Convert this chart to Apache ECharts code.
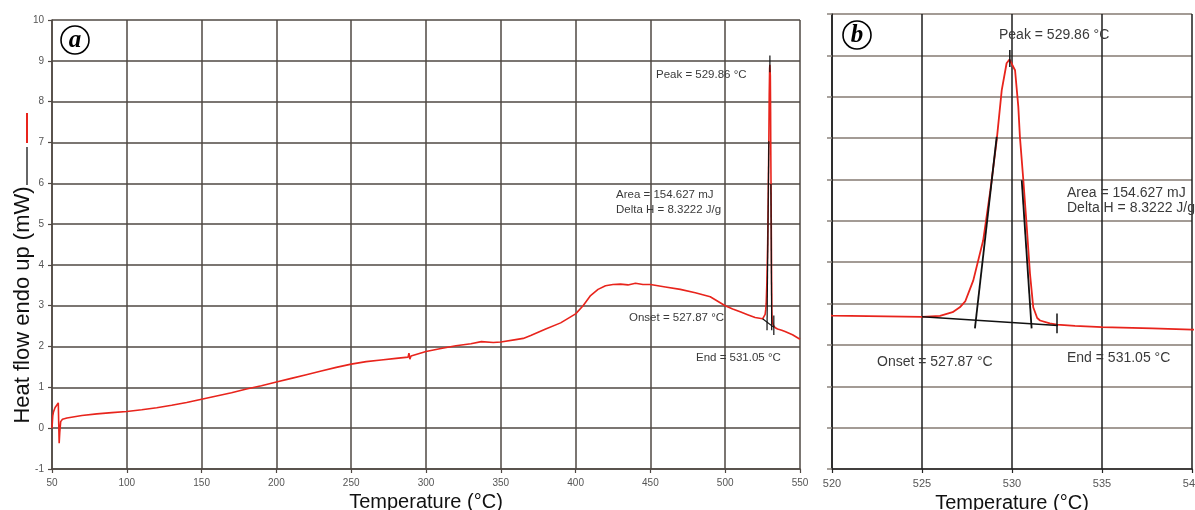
<!DOCTYPE html>
<html>
<head>
<meta charset="utf-8">
<script src="https://cdn.jsdelivr.net/npm/echarts@6/dist/echarts.min.js"></script>
<style>
html,body{margin:0;padding:0;background:#fff;}
#main{width:1195px;height:510px;}
</style>
</head>
<body>
<div id="main"></div>
<script>
// ---- data ----
var temps = [50, 50.5, 51, 52, 54.2, 54.5, 54.8, 55.2, 55.8, 57, 60, 70, 80, 90, 100, 110, 120, 130, 140, 150,
  160, 170, 180, 190, 200, 210, 220, 230, 240, 250, 260, 270, 280, 288, 288.6, 289.2, 290, 300, 310, 320,
  330, 337, 345, 350, 360, 365, 370, 380, 390, 400, 405, 410, 415, 420, 425, 430, 435, 440, 445, 450,
  460, 470, 480, 490, 500, 505, 510, 515, 520, 525, 526, 526.7, 527.1, 527.4, 527.85, 528.4, 528.8, 529.15, 529.43, 529.7,
  529.86, 530.17, 530.35, 530.44, 530.63, 530.82, 531.0, 531.18, 531.4, 531.56, 532.1, 532.5, 533.5, 535, 537.8, 540, 545, 550];
var heatFlow = [0.0, 0.3, 0.4, 0.5, 0.62, 0.1, -0.37, -0.1, 0.16, 0.22, 0.25, 0.31, 0.35, 0.38, 0.41, 0.45, 0.5, 0.56, 0.63, 0.71,
  0.79, 0.87, 0.96, 1.04, 1.13, 1.22, 1.31, 1.40, 1.49, 1.57, 1.63, 1.67, 1.71, 1.74, 1.84, 1.69, 1.77, 1.88, 1.95, 2.02,
  2.07, 2.12, 2.10, 2.11, 2.17, 2.20, 2.27, 2.43, 2.58, 2.80, 3.0, 3.25, 3.40, 3.49, 3.52, 3.53, 3.51, 3.55, 3.52, 3.52,
  3.46, 3.40, 3.32, 3.22, 3.00, 2.92, 2.85, 2.78, 2.71, 2.68, 2.70, 2.79, 2.91, 3.05, 3.56, 4.53, 5.74, 6.95, 8.16, 8.81,
  8.90, 8.64, 7.76, 7.03, 5.98, 4.85, 3.72, 2.91, 2.65, 2.59, 2.52, 2.49, 2.46, 2.43, 2.40, 2.37, 2.29, 2.18];

// integration construction lines (°C, mW)
var baseLine = [[525, 2.68], [532.55, 2.47]];
var onsetTangent = [[527.94, 2.40], [529.15, 7.03]];
var endTangent = [[530.54, 5.98], [531.09, 2.40]];
var peakTick = [[529.88, 9.13], [529.88, 8.72]];
var endTick = [[532.5, 2.76], [532.5, 2.28]];

var xTicksA = [50, 550, 50];   // min, max, interval
var xTicksB = [520, 540, 5];
var yTicks = [-1, 10, 1];

var peakText = 'Peak = 529.86 \u00B0C';
var areaText = 'Area = 154.627 mJ';
var deltaText = 'Delta H = 8.3222 J/g';
var onsetText = 'Onset = 527.87 \u00B0C';
var endText = 'End = 531.05 \u00B0C';
var xName = 'Temperature (\u00B0C)';
var yName = 'Heat flow endo up (mW)';

// ---- build ----
var curve = temps.map(function (t, i) { return [t, heatFlow[i]]; });
var FONT = 'Liberation Sans, Arial, sans-serif';
var RED = '#e8241c';
var chart = echarts.init(document.getElementById('main'), null, {renderer: 'canvas'});

function lineSeries(data, xi, color, width, z) {
  return {type: 'line', xAxisIndex: xi, yAxisIndex: xi, data: data, showSymbol: false, symbol: 'none',
    lineStyle: {color: color, width: width}, animation: false, z: z, silent: true};
}

function txt(x, y, s, size) {
  return {type: 'text', x: x, y: y, z: 100,
    style: {text: s, font: size + 'px ' + FONT, fill: '#3a3a3a', textVerticalAlign: 'middle'}};
}
function circLabel(cx, cy, letter) {
  return {type: 'group', x: cx, y: cy, z: 100, children: [
    {type: 'circle', shape: {cx: 0, cy: 0, r: 14}, style: {fill: '#fff', stroke: '#000', lineWidth: 1.6}},
    {type: 'text', x: 0, y: 1, style: {text: letter, font: 'italic bold 25px "Liberation Serif", "DejaVu Serif", serif', fill: '#000', textAlign: 'center', textVerticalAlign: 'middle'}}
  ]};
}

var gridA = '#4f4843';
var option = {
  backgroundColor: '#fff',
  animation: false,
  grid: [
    {left: 52, top: 20, width: 748, height: 449, outerBoundsMode: 'none', containLabel: false},
    {left: 832, top: 14, width: 360, height: 455, outerBoundsMode: 'none', containLabel: false}
  ],
  xAxis: [
    {type: 'value', gridIndex: 0, min: xTicksA[0], max: xTicksA[1], interval: xTicksA[2],
      axisLine: {show: true, onZero: false, lineStyle: {color: gridA, width: 1.5}},
      axisTick: {show: true, length: 4, lineStyle: {color: gridA, width: 1.2}},
      axisLabel: {color: '#555', fontSize: 10, fontFamily: FONT, margin: 9},
      splitLine: {show: true, lineStyle: {color: gridA, width: 1.5}},
      name: xName, nameLocation: 'middle', nameGap: 17,
      nameTextStyle: {color: '#111', fontSize: 20, fontFamily: FONT}},
    {type: 'value', gridIndex: 1, min: xTicksB[0], max: xTicksB[1], interval: xTicksB[2],
      axisLine: {show: true, onZero: false, lineStyle: {color: '#222', width: 1.5}},
      axisTick: {show: true, length: 4, lineStyle: {color: '#222', width: 1.2}},
      axisLabel: {color: '#555', fontSize: 11, fontFamily: FONT, margin: 9},
      splitLine: {show: true, lineStyle: {color: '#1e1e1e', width: 1.5}},
      name: xName, nameLocation: 'middle', nameGap: 17,
      nameTextStyle: {color: '#111', fontSize: 20, fontFamily: FONT}}
  ],
  yAxis: [
    {type: 'value', gridIndex: 0, min: yTicks[0], max: yTicks[1], interval: yTicks[2],
      axisLine: {show: true, onZero: false, lineStyle: {color: gridA, width: 1.5}},
      axisTick: {show: true, length: 4, lineStyle: {color: gridA, width: 1.2}},
      axisLabel: {color: '#555', fontSize: 10, fontFamily: FONT, margin: 8},
      splitLine: {show: true, lineStyle: {color: gridA, width: 1.5}}},
    {type: 'value', gridIndex: 1, min: yTicks[0], max: yTicks[1], interval: yTicks[2],
      axisLine: {show: true, onZero: false, lineStyle: {color: '#222', width: 1.5}},
      axisTick: {show: true, length: 5, lineStyle: {color: '#8c847e', width: 1.5}},
      axisLabel: {show: false},
      splitLine: {show: true, lineStyle: {color: '#a39b95', width: 1.8}}}
  ],
  series: [
    lineSeries(curve, 0, RED, 1.6, 3),
    lineSeries(baseLine, 0, '#111', 1.2, 4),
    lineSeries(onsetTangent, 0, '#111', 1.2, 4),
    lineSeries(endTangent, 0, '#111', 1.2, 4),
    lineSeries(peakTick, 0, '#111', 1.2, 4),
    lineSeries(endTick, 0, '#111', 1.2, 4),
    lineSeries(curve, 1, RED, 1.8, 3),
    lineSeries(baseLine, 1, '#111', 1.5, 4),
    lineSeries(onsetTangent, 1, '#111', 1.8, 4),
    lineSeries(endTangent, 1, '#111', 1.8, 4),
    lineSeries(peakTick, 1, '#111', 1.5, 4),
    lineSeries(endTick, 1, '#111', 1.5, 4)
  ],
  graphic: [
    {type: 'text', x: 23, y: 305, rotation: Math.PI / 2, z: 100,
      style: {text: yName, font: '22px ' + FONT, fill: '#111', textAlign: 'center', textVerticalAlign: 'middle'}},
    {type: 'line', shape: {x1: 27, y1: 113, x2: 27, y2: 143}, style: {stroke: RED, lineWidth: 2}, z: 100},
    {type: 'line', shape: {x1: 27, y1: 147, x2: 27, y2: 185}, style: {stroke: '#333', lineWidth: 1.5}, z: 100},
    circLabel(75, 40, 'a'),
    circLabel(857, 35, 'b'),
    txt(656, 75, peakText, 11.5),
    txt(616, 195, areaText, 11.5),
    txt(616, 210, deltaText, 11.5),
    txt(629, 318, onsetText, 11.5),
    txt(696, 358, endText, 11.5),
    txt(999, 35, peakText, 14),
    txt(1067, 193, areaText, 14),
    txt(1067, 208, deltaText, 14),
    txt(877, 362, onsetText, 14),
    txt(1067, 358, endText, 14)
  ]
};
chart.setOption(option);
</script>
</body>
</html>
